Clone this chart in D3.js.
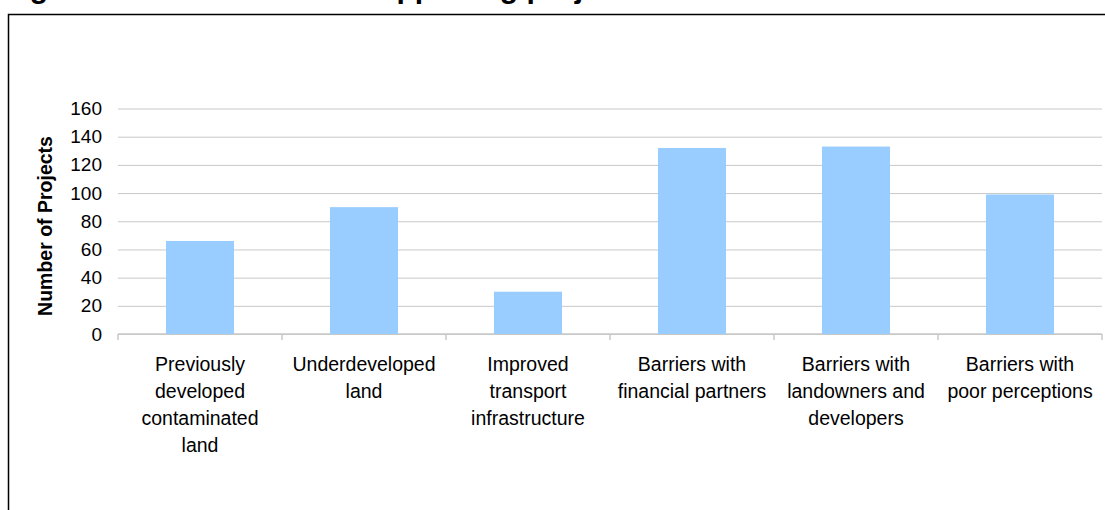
<!DOCTYPE html>
<html>
<head>
<meta charset="utf-8">
<script src="https://cdn.jsdelivr.net/npm/d3@7"></script>
<style>
  html, body { margin: 0; padding: 0; background: #fff; }
  svg { display: block; }
  text { font-family: Arial, "Liberation Sans", Helvetica, sans-serif; fill: #000; }
</style>
</head>
<body>
<svg id="chart" width="1105" height="510"></svg>
<script>
// Issue categories, with each label split into its wrapped lines
const categories = [
  "Previously developed contaminated land",
  "Underdeveloped land",
  "Improved transport infrastructure",
  "Barriers with financial partners",
  "Barriers with landowners and developers",
  "Barriers with poor perceptions"
];
const categoryLines = [
  ["Previously", "developed", "contaminated", "land"],
  ["Underdeveloped", "land"],
  ["Improved", "transport", "infrastructure"],
  ["Barriers with", "financial partners"],
  ["Barriers with", "landowners and", "developers"],
  ["Barriers with", "poor perceptions"]
];
// Number of projects per category
const projectCounts = [66, 90, 30, 132, 133, 99];
// Value axis ticks
const yTicks = [0, 20, 40, 60, 80, 100, 120, 140, 160];

const titleText = "Figure 4: Issues faced in supporting projects";
const yAxisTitle = "Number of Projects";

const svg = d3.select("#chart");
const plot = { left: 118, right: 1102, top: 108.5, bottom: 334 };

// Frame around the figure
svg.append("rect")
  .attr("x", 8.5).attr("y", 14.5)
  .attr("width", 1200).attr("height", 600)
  .attr("fill", "none").attr("stroke", "#000").attr("stroke-width", 1.5);

// Title line sits at the very top edge
svg.append("text")
  .attr("x", 3).attr("y", -2)
  .style("font-size", "30px").style("font-weight", "bold")
  .text(titleText);

const x = d3.scaleBand()
  .domain(categories)
  .range([plot.left, plot.right])
  .paddingInner(0.585)
  .paddingOuter(0.2925);

const y = d3.scaleLinear()
  .domain([0, 160])
  .range([plot.bottom, plot.top]);

// Horizontal gridlines and value labels
const yAxis = svg.append("g")
  .attr("transform", `translate(${plot.left},0)`)
  .call(d3.axisLeft(y)
    .tickValues(yTicks)
    .tickSize(-(plot.right - plot.left))
    .tickPadding(16)
    .tickFormat(d3.format("d")));
yAxis.select(".domain").remove();
yAxis.selectAll(".tick line").attr("stroke", "#c8c8c8").attr("stroke-width", 1);
yAxis.selectAll(".tick text")
  .style("font-size", "19px")
  .attr("fill", "#000");

// Category baseline with tick marks between categories
const gap = (x.step() - x.bandwidth()) / 2;
const boundaries = categories.map(c => x(c) - gap).concat([x(categories[categories.length - 1]) + x.bandwidth() + gap]);
const xAxis = svg.append("g");
xAxis.append("line")
  .attr("x1", plot.left).attr("x2", plot.right)
  .attr("y1", y(0)).attr("y2", y(0))
  .attr("stroke", "#c8c8c8").attr("stroke-width", 1.5);
xAxis.selectAll("line.tick")
  .data(boundaries)
  .join("line")
  .attr("class", "tick")
  .attr("x1", d => d).attr("x2", d => d)
  .attr("y1", y(0)).attr("y2", y(0) + 6)
  .attr("stroke", "#c8c8c8").attr("stroke-width", 1.5);

// Bars
svg.append("g")
  .selectAll("rect")
  .data(categories.map((c, i) => ({ c, v: projectCounts[i] })))
  .join("rect")
  .attr("x", d => x(d.c))
  .attr("width", x.bandwidth())
  .attr("y", d => y(d.v))
  .attr("height", d => y(0) - y(d.v))
  .attr("fill", "#99ccff");

// Wrapped category labels
const labels = svg.append("g")
  .selectAll("text")
  .data(categories.map((c, i) => ({ c, lines: categoryLines[i] })))
  .join("text")
  .attr("text-anchor", "middle")
  .style("font-size", "19.5px")
  .attr("transform", d => `translate(${x(d.c) + x.bandwidth() / 2},370.5)`);
labels.selectAll("tspan")
  .data(d => d.lines)
  .join("tspan")
  .attr("x", 0)
  .attr("y", (d, i) => i * 27)
  .text(d => d);

// Value axis title
svg.append("text")
  .attr("transform", `translate(52,226) rotate(-90)`)
  .attr("text-anchor", "middle")
  .style("font-size", "19.5px").style("font-weight", "bold")
  .text(yAxisTitle);
</script>
</body>
</html>
